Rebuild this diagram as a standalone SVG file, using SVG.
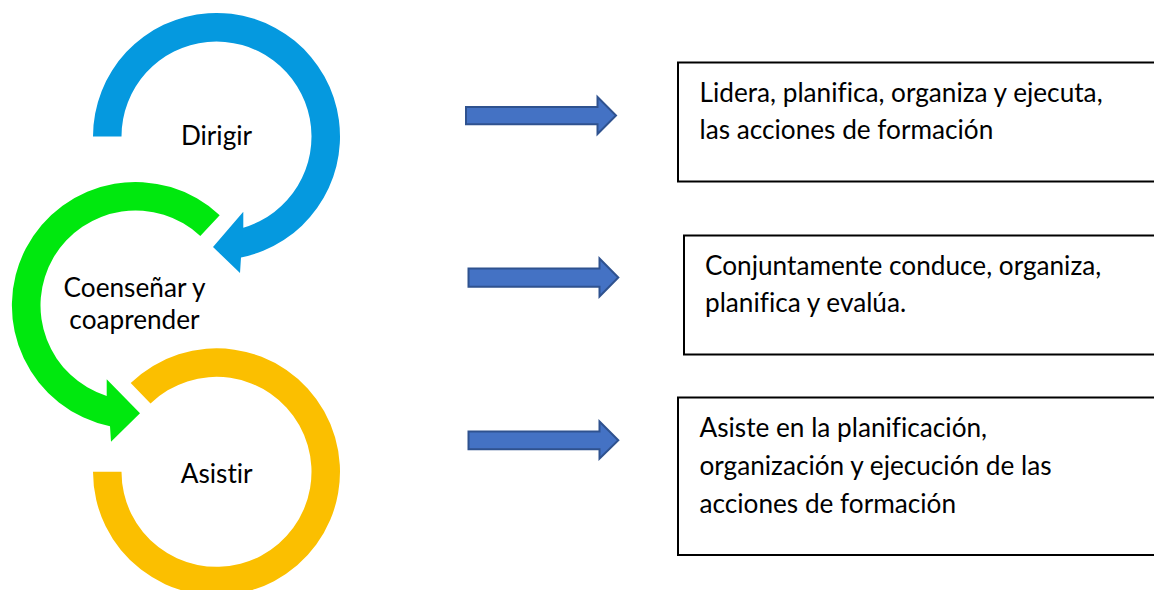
<svg xmlns="http://www.w3.org/2000/svg" width="1154" height="590" viewBox="0 0 1154 590">
  <style>
    .lbl { font-family: Lato, "Liberation Sans", sans-serif; font-size: 26.2px; fill: #000; font-variant-ligatures: none; }
    .ctr { text-anchor: middle; }
    .box { fill: #fff; stroke: #000; stroke-width: 2; }
    .blk { fill: #4472C4; stroke: #2F528F; stroke-width: 2; stroke-linejoin: miter; }
  </style>
  <rect width="1154" height="590" fill="#fff"/>

  <g id="node-dirigir">
    <path fill="#0599DF" d="M 93,136.5 A 123.5 123.5 0 1 1 241,257.5 L 240,273 L 213,247 L 243.3,211.7 L 243.3,227.7 A 95 95 0 1 0 121.5,136.5 Z"/>
    <text class="lbl ctr" x="216.5" y="145">Dirigir</text>
  </g>

  <g id="node-coensenar">
    <path fill="#00E80E" d="M 219.7,215.2 A 123.5 123.5 0 1 0 110,426.3 L 111,441.7 L 140,413.3 L 106.7,379.3 L 106.7,396 A 95 95 0 1 1 200.3,236 Z"/>
    <text class="lbl ctr" x="134.5" y="297">Coenseñar y</text>
    <text class="lbl ctr" x="134.5" y="328.5">coaprender</text>
  </g>

  <g id="node-asistir">
    <path fill="#FBBF00" d="M 93,471.8 A 123.5 123.5 0 1 0 130.7,383 L 150.5,403.5 A 95 95 0 1 1 121.5,471.8 Z"/>
    <text class="lbl ctr" x="216.7" y="482.5">Asistir</text>
  </g>

  <g id="connectors">
    <polygon class="blk" points="466,107 597.5,107 597.5,97 616,115.5 597.5,134 597.5,124.3 466,124.3"/>
    <polygon class="blk" points="468.5,268.5 599.5,268.5 599.5,258.5 618.3,277.5 599.5,296.5 599.5,286.7 468.5,286.7"/>
    <polygon class="blk" points="468.5,431.5 599.5,431.5 599.5,421.5 618.3,440.3 599.5,458.7 599.5,449.3 468.5,449.3"/>
  </g>

  <g id="node-box1">
    <rect class="box" x="678" y="62.5" width="490" height="119"/>
    <text class="lbl" x="699.5" y="102">Lidera, planifica, organiza y ejecuta,</text>
    <text class="lbl" x="699.5" y="139">las acciones de formación</text>
  </g>

  <g id="node-box2">
    <rect class="box" x="684" y="235.5" width="490" height="119"/>
    <text class="lbl" x="705" y="275">Conjuntamente conduce, organiza,</text>
    <text class="lbl" x="705" y="311.5">planifica y evalúa.</text>
  </g>

  <g id="node-box3">
    <rect class="box" x="678" y="397.5" width="490" height="157.5"/>
    <text class="lbl" x="699.5" y="437">Asiste en la planificación,</text>
    <text class="lbl" x="699.5" y="475">organización y ejecución de las</text>
    <text class="lbl" x="699.5" y="512.5">acciones de formación</text>
  </g>
</svg>
